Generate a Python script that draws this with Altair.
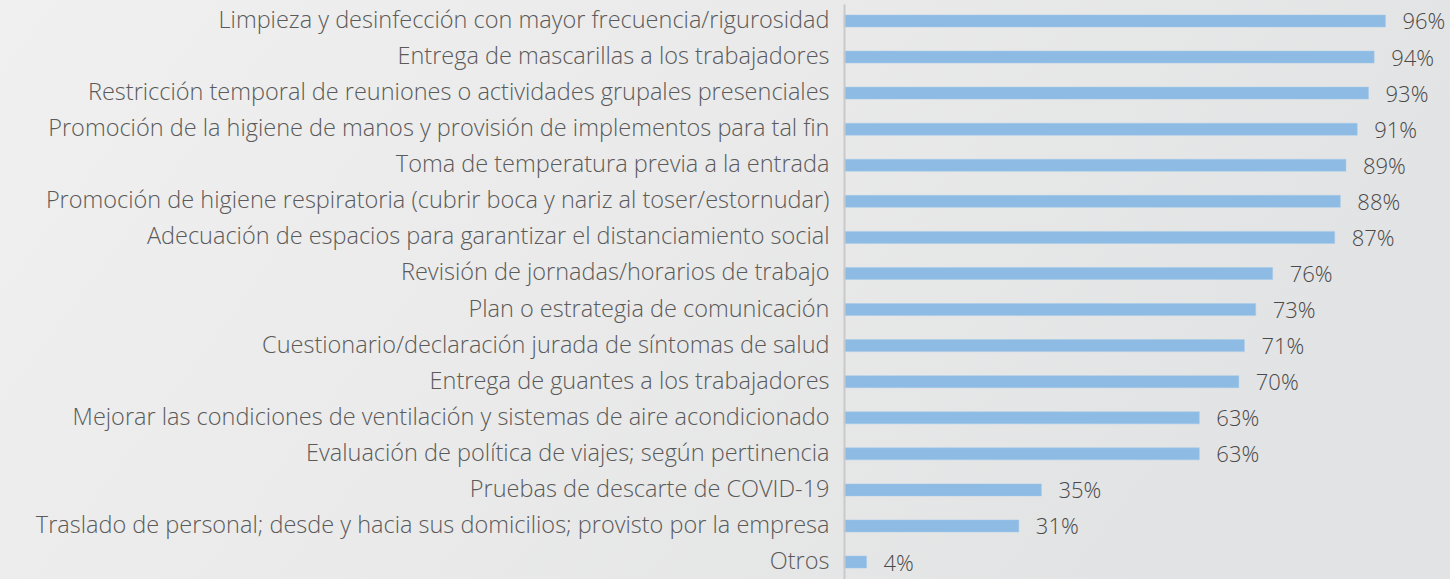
import altair as alt
import pandas as pd

categories = [
    "Limpieza y desinfección con mayor frecuencia/rigurosidad",
    "Entrega de mascarillas a los trabajadores",
    "Restricción temporal de reuniones o actividades grupales presenciales",
    "Promoción de la higiene de manos y provisión de implementos para tal fin",
    "Toma de temperatura previa a la entrada",
    "Promoción de higiene respiratoria (cubrir boca y nariz al toser/estornudar)",
    "Adecuación de espacios para garantizar el distanciamiento social",
    "Revisión de jornadas/horarios de trabajo",
    "Plan o estrategia de comunicación",
    "Cuestionario/declaración jurada de síntomas de salud",
    "Entrega de guantes a los trabajadores",
    "Mejorar las condiciones de ventilación y sistemas de aire acondicionado",
    "Evaluación de política de viajes; según pertinencia",
    "Pruebas de descarte de COVID-19",
    "Traslado de personal; desde y hacia sus domicilios; provisto por la empresa",
    "Otros",
]
values = [96, 94, 93, 91, 89, 88, 87, 76, 73, 71, 70, 63, 63, 35, 31, 4]
value_labels = [f"{v}%" for v in values]

df = pd.DataFrame({"cat": categories, "val": values, "lab": value_labels})

FONT = "Open Sans"

bg = alt.Chart(alt.Data(values=[{}])).mark_rect(
    color=alt.Gradient(
        gradient="linear", x1=0, y1=0, x2=1, y2=0.3,
        stops=[alt.GradientStop(offset=0, color="#EFF0EF"),
               alt.GradientStop(offset=0.5, color="#EAEAEA"),
               alt.GradientStop(offset=1, color="#E2E3E4")],
    )
).encode(
    x=alt.value(-844), x2=alt.value(606), y=alt.value(-4), y2=alt.value(575)
)

yenc = alt.Y(
    "cat:N", sort=categories, title=None,
    scale=alt.Scale(paddingInner=0.667, paddingOuter=0.304, align=0.5),
    axis=alt.Axis(
        domain=True, domainColor="#C9C9C9", domainWidth=2, ticks=False,
        labelFont=FONT, labelFontSize=23.5, labelFontWeight=300, labelColor="#5A5A5A",
        labelPadding=15, labelLimit=900, grid=False, zindex=2,
    ),
)
xenc = alt.X("val:Q", scale=alt.Scale(domain=[0, 100]), axis=None)

bars = alt.Chart(df).mark_bar(color="#8DBBE4", stroke="#A4CAEA", strokeWidth=0.5).encode(
    y=yenc, x=xenc
)
text = alt.Chart(df).mark_text(
    align="left", baseline="middle", dx=17, dy=1.5, font=FONT, fontSize=22,
    fontWeight=300, color="#4A4A4A"
).encode(y=alt.Y("cat:N", sort=categories), x="val:Q", text="lab:N")

chart = alt.layer(bg, bars, text).properties(
    width=564, height=575,
    autosize=alt.AutoSizeParams(type="none"),
    padding={"left": 844, "top": 4, "right": 42, "bottom": 0},
).configure_view(stroke=None).configure(background="#EAEAEA")

chart.save("out.html", embed_options={"renderer": "svg", "actions": False})
